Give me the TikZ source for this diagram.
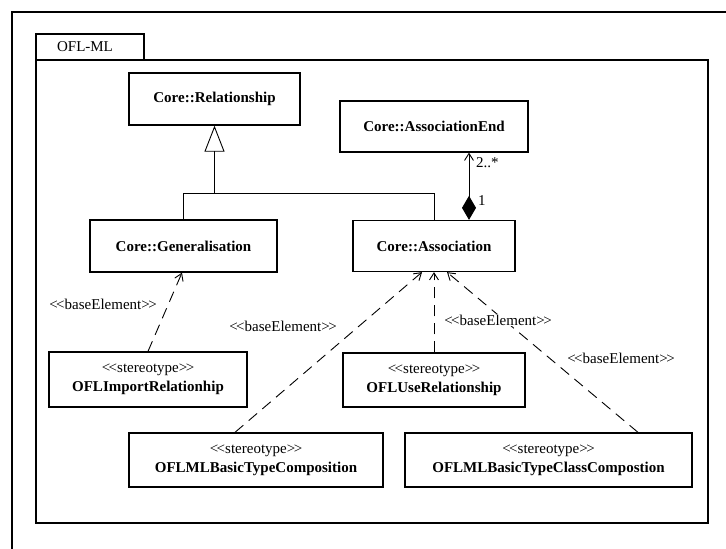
\documentclass[tikz,border=0pt]{standalone}
\usepackage{fontspec}
\setmainfont{Liberation Serif}
\usetikzlibrary{arrows.meta}

% guillemet-like brackets typed as two separate angle characters
\newcommand\stl{<\kern-1.5pt<}
\newcommand\str{>\kern-1.5pt>}

\begin{document}
\begin{tikzpicture}[x=1pt,y=-1pt,
  every node/.style={font=\fontsize{15}{18}\selectfont},
  classbox/.style={draw, line width=1.3pt, inner sep=0pt, font=\fontsize{15}{18}\selectfont\bfseries},
  stereobox/.style={draw, line width=1.3pt, inner sep=0pt, align=center},
  dep/.style={line width=0.9pt, dash pattern=on 11pt off 7pt, -{Straight Barb[length=7pt,width=9pt,line width=0.9pt]}},
  generalize/.style={line width=0.9pt, -{Triangle[open,length=26pt,width=20pt,line width=0.9pt]}},
  compose/.style={line width=0.9pt, {Diamond[length=24pt,width=14pt]}-{Straight Barb[length=7pt,width=9pt,line width=0.9pt]}},
  lbl/.style={inner sep=0.5pt, fill=white}
]
\useasboundingbox (0,0) rectangle (726,549);

% outer frame and package
\draw[line width=1.6pt] (12,549) -- (12,12) -- (726,12);
\draw[line width=1.3pt] (36,60) rectangle (708,523);
\draw[line width=1.3pt] (36,60) -- (36,34) -- (144,34) -- (144,60);
\node (tab) at (85,47) {OFL-ML};

% classes
\node[classbox, minimum width=171pt, minimum height=52pt] (rel)   at (214.5,99)  {Core::Relationship};
\node[classbox, minimum width=188pt, minimum height=51pt] (aend)  at (434,126.5) {Core::AssociationEnd};
\node[classbox, minimum width=187pt, minimum height=52pt] (gen)   at (183.5,246) {Core::Generalisation};
\node[classbox, minimum width=162pt, minimum height=51pt] (assoc) at (434,246)   {Core::Association};

% stereotypes
\node[stereobox, minimum width=198pt, minimum height=55pt] (imp)   at (148,379.5)
  {\stl stereotype\str\\[1pt]\textbf{OFLImportRelationhip}};
\node[stereobox, minimum width=182pt, minimum height=54pt] (use)   at (434,380)
  {\stl stereotype\str\\[1pt]\textbf{OFLUseRelationship}};
\node[stereobox, minimum width=254pt, minimum height=54pt] (comp)  at (256,460)
  {\stl stereotype\str\\[1pt]\textbf{OFLMLBasicTypeComposition}};
\node[stereobox, minimum width=287pt, minimum height=54pt] (ccomp) at (548.5,460)
  {\stl stereotype\str\\[1pt]\textbf{OFLMLBasicTypeClassCompostion}};

% generalisation tree
\coordinate (bar) at (214.5,193);
\draw[line width=0.9pt] (gen.north) -- (gen.north |- bar) -| (assoc.north);
\draw[generalize] (bar) -- (rel.south);

% composition Association -> AssociationEnd
\draw[compose] ([xshift=35pt]assoc.north) -- ([xshift=35pt]aend.south);
\node[anchor=west, inner sep=0pt] (mult) at (476,163) {2..*};
\node[anchor=west, inner sep=0pt] (one)  at (478,201) {1};

% baseElement dependencies
\draw[dep] (imp.north) -- ([xshift=-1.5pt]gen.south);
\draw[dep] ([xshift=-21pt]comp.north) -- ([xshift=-12pt]assoc.south);
\draw[dep] (use.north) -- (assoc.south);
\draw[dep] ([xshift=89.5pt]ccomp.north) -- ([xshift=13pt]assoc.south);

\node[lbl] (b1) at (103,304) {\stl baseElement\str};
\node[lbl] (b2) at (283,326) {\stl baseElement\str};
\node[lbl] (b3) at (498,320) {\stl baseElement\str};
\node[lbl] (b4) at (621,358) {\stl baseElement\str};
\end{tikzpicture}
\end{document}
